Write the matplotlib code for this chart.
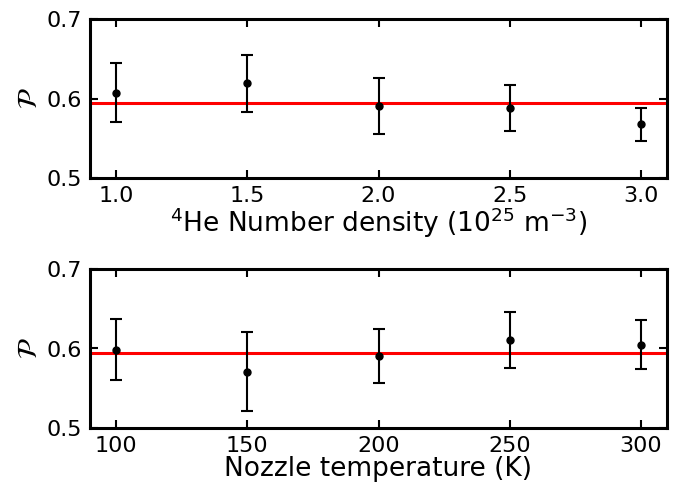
import numpy as np
import matplotlib.pyplot as plt

# polarisation vs. number density
density = [1.0, 1.5, 2.0, 2.5, 3.0]
pol_density = [0.6075, 0.619, 0.5905, 0.588, 0.5675]
err_density = [0.0375, 0.036, 0.035, 0.0285, 0.0207]

# polarisation vs. nozzle temperature
temperature = [100, 150, 200, 250, 300]
pol_temp = [0.5985, 0.571, 0.5905, 0.6104, 0.605]
err_temp = [0.038, 0.050, 0.0345, 0.035, 0.031]

pol_mean = 0.5945

plt.rcParams['font.size'] = 16

W, H = 684, 490
fig = plt.figure(figsize=(W / 100, H / 100), dpi=100)
ax1 = fig.add_axes([90 / W, 1 - 178 / H, 577 / W, 159 / H])
ax2 = fig.add_axes([90 / W, 1 - 428 / H, 577 / W, 159 / H])

panels = [
    (ax1, density, pol_density, err_density, (0.9, 3.1),
     r'$^4$He Number density (10$^{25}$ m$^{-3}$)'),
    (ax2, temperature, pol_temp, err_temp, (90, 310),
     'Nozzle temperature (K)'),
]

for ax, x, y, yerr, xlim, xlabel in panels:
    ax.axhline(pol_mean, color='red', lw=2.2, zorder=1)
    ax.errorbar(x, y, yerr=yerr, fmt='o', color='black', ms=5,
                elinewidth=1.5, capsize=4.5, capthick=1.5, zorder=2)
    ax.set_xlim(*xlim)
    ax.set_ylim(0.5, 0.7)
    ax.set_yticks([0.5, 0.6, 0.7])
    ax.set_xticks(x)
    if ax is ax1:
        ax.set_xticklabels([f'{v:.1f}' for v in x])
    ax.set_xlabel(xlabel, fontsize=19, labelpad=0)
    ax.set_ylabel(r'$\mathcal{P}$', fontsize=20, labelpad=3)
    ax.tick_params(direction='in', top=True, right=True, length=5.5,
                   width=1.5, pad=5.5)
    for s in ax.spines.values():
        s.set_linewidth(2.2)

fig.savefig('out.png', dpi=100)
